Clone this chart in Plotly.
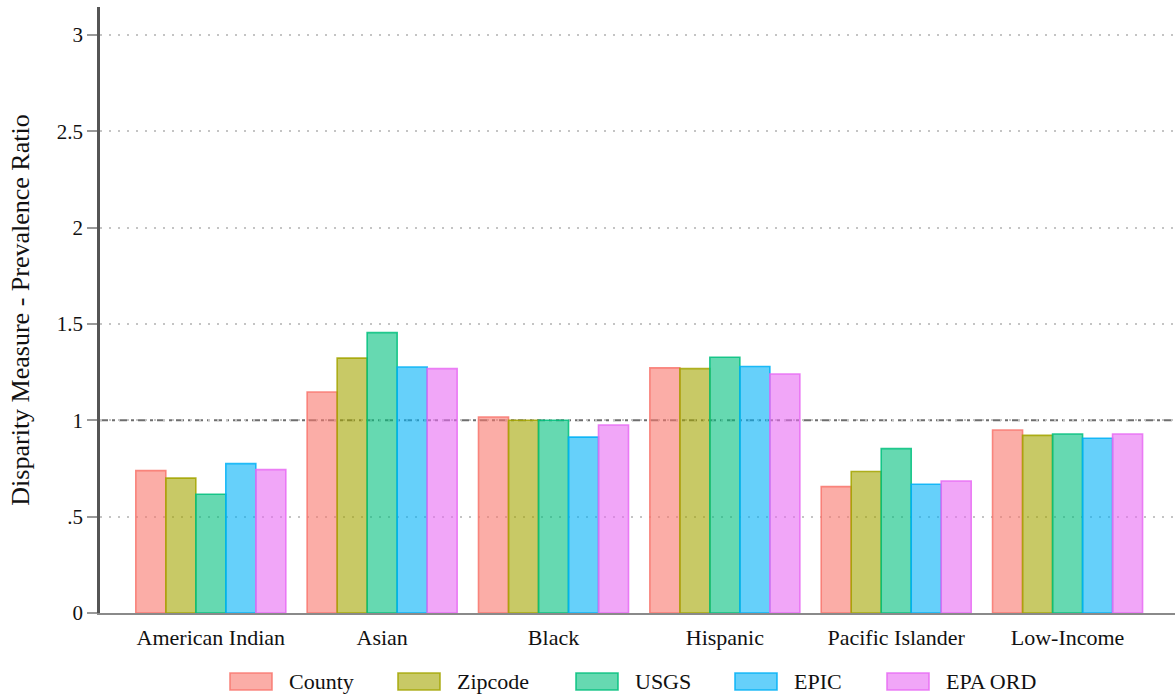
import plotly.graph_objects as go

categories = ["American Indian", "Asian", "Black", "Hispanic", "Pacific Islander", "Low-Income"]
series_names = ["County", "Zipcode", "USGS", "EPIC", "EPA ORD"]
county = [0.739, 1.147, 1.017, 1.272, 0.656, 0.950]
zipcode = [0.700, 1.323, 1.000, 1.268, 0.734, 0.922]
usgs = [0.616, 1.455, 1.000, 1.327, 0.853, 0.929]
epic = [0.775, 1.277, 0.913, 1.279, 0.668, 0.907]
epa_ord = [0.744, 1.268, 0.976, 1.240, 0.685, 0.929]
y_tickvals = [0, 0.5, 1, 1.5, 2, 2.5, 3]
y_ticktext = ["0", ".5", "1", "1.5", "2", "2.5", "3"]
reference_value = 1.0

series_values = [county, zipcode, usgs, epic, epa_ord]
line_colors = ["#F8766D", "#A3A500", "#00BF7D", "#00B0F6", "#E76BF3"]


def rgba(hexc, a):
    h = hexc.lstrip("#")
    r, g, b = int(h[0:2], 16), int(h[2:4], 16), int(h[4:6], 16)
    return f"rgba({r},{g},{b},{a})"


FONT = "Liberation Serif, Times New Roman, serif"
W, H = 1175, 698
ML, MR, MT, MB = 100, 0, 7, 85

fig = go.Figure()
for name, vals, col in zip(series_names, series_values, line_colors):
    fig.add_trace(go.Bar(
        x=categories, y=vals, name=name,
        marker=dict(color=rgba(col, 0.6), line=dict(color=rgba(col, 0.85), width=1.6)),
        showlegend=False,
    ))

# reference line at 1
fig.add_shape(type="line", xref="paper", x0=0, x1=1, yref="y",
              y0=reference_value, y1=reference_value,
              line=dict(color="#6e6e6e", width=2, dash="8px,4px,3px,4px"), layer="below")

# manual legend (pixel layout converted to paper coordinates)
pw = W - ML - MR
ph = H - MT - MB
legend_sw_left = [230, 398, 576, 735, 887]
sw_w, sw_top, sw_bot = 42, 673, 690
for name, col, lx in zip(series_names, line_colors, legend_sw_left):
    x0 = (lx - ML) / pw
    x1 = (lx + sw_w - ML) / pw
    y0 = (H - MB - sw_bot) / ph
    y1 = (H - MB - sw_top) / ph
    fig.add_shape(type="rect", xref="paper", yref="paper", x0=x0, x1=x1, y0=y0, y1=y1,
                  fillcolor=rgba(col, 0.6), line=dict(color=rgba(col, 0.85), width=1.6))
    fig.add_annotation(xref="paper", yref="paper", x=(lx + sw_w + 15 - ML) / pw,
                       y=(y0 + y1) / 2, text=name, showarrow=False,
                       xanchor="left", yanchor="middle",
                       font=dict(family=FONT, size=22, color="#111"))

fig.update_layout(
    width=W, height=H,
    margin=dict(l=ML, r=MR, t=MT, b=MB),
    paper_bgcolor="white", plot_bgcolor="white",
    barmode="group", bargap=0.1246, bargroupgap=0,
    font=dict(family=FONT, color="#111"),
    showlegend=False,
)
fig.update_xaxes(
    type="category", categoryorder="array", categoryarray=categories,
    range=[-0.6466, 5.627],
    showline=True, linecolor="#8a8a8a", linewidth=2,
    showgrid=False, ticks="outside", ticklen=4, tickcolor="rgba(0,0,0,0)",
    tickfont=dict(family=FONT, size=22, color="#111"),
)
fig.update_yaxes(
    range=[0, 3.145],
    tickvals=y_tickvals, ticktext=y_ticktext,
    showline=True, linecolor="#555", linewidth=2.5,
    ticks="outside", ticklen=10, tickcolor="#999", tickwidth=2,
    tickfont=dict(family=FONT, size=21, color="#111"),
    showgrid=True, gridcolor="#c4c4c4", gridwidth=1.5, griddash="2px,7px",
    zeroline=False,
    title=dict(text="Disparity Measure - Prevalence Ratio",
               font=dict(family=FONT, size=26, color="#111"), standoff=20),
)

fig.write_html("out.html", config={"displayModeBar": False},
               post_script="document.body.style.margin='0';")
